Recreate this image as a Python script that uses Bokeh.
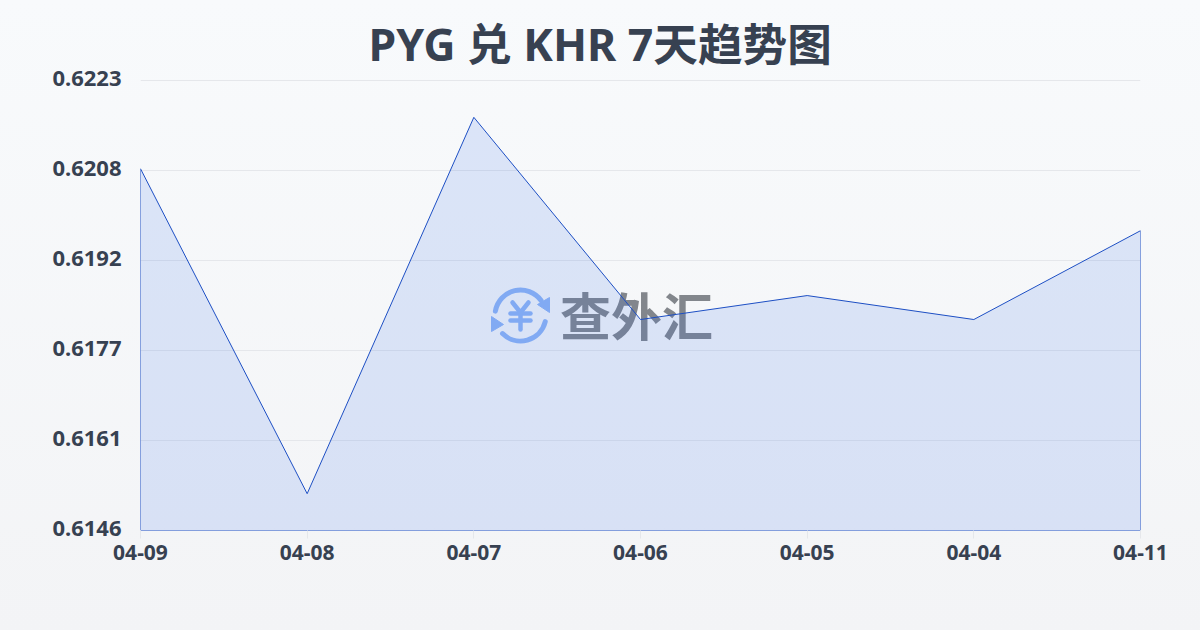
from bokeh.plotting import figure
from bokeh.embed import file_html
from bokeh.resources import INLINE
from bokeh.models import Range1d, FixedTicker, Label, GlobalInlineStyleSheet

title = "PYG 兑 KHR 7天趋势图"
dates = ["04-09", "04-08", "04-07", "04-06", "04-05", "04-04", "04-11"]
rates = [0.62079, 0.61523, 0.62167, 0.61821, 0.61862, 0.61821, 0.61973]
y_ticks = [0.6146, 0.61614, 0.61768, 0.61922, 0.62076, 0.6223]
y_labels = ["0.6146", "0.6161", "0.6177", "0.6192", "0.6208", "0.6223"]
y_min, y_max = 0.6146, 0.6223

W, H = 1184, 614
FONT = "'Noto Sans', 'Noto Sans CJK SC'"
TEXT = "#374151"
LOGO = "#8fb5f5"
shift = 2 * (y_max - y_min) / 450  # tick labels sit 2px above their grid lines

p = figure(width=W, height=H, output_backend="svg", toolbar_location=None,
           x_range=Range1d(0, len(dates) - 1), y_range=Range1d(y_min, y_max + shift),
           min_border_left=140, min_border_right=44, min_border_top=78, min_border_bottom=84,
           background_fill_alpha=0, border_fill_alpha=0)
p.stylesheets = [GlobalInlineStyleSheet(css="html{min-height:100%;background:linear-gradient(180deg,#f8fafc 0%,#f3f4f6 100%);}body{background:transparent;}")]
p.outline_line_color = None
p.xgrid.visible = False
p.ygrid.ticker = FixedTicker(ticks=y_ticks)
p.ygrid.grid_line_color = "#e5e7eb"
p.ygrid.grid_line_width = 1

p.title.text = title
p.title.align = "left"
p.title.offset = 228
p.title.standoff = 9
p.title.text_font = FONT
p.title.text_font_style = "bold"
p.title.text_font_size = "44.6px"
p.title.text_color = "#374151"

p.extra_y_ranges = {"ylab": Range1d(y_min - shift, y_max + 1e-7),
                    "px": Range1d(450, -2)}
p.extra_x_ranges = {"px": Range1d(0, 1000)}

p.xaxis.ticker = FixedTicker(ticks=list(range(len(dates))))
p.xaxis.major_label_overrides = {i: d for i, d in enumerate(dates)}
p.yaxis[0].y_range_name = "ylab"
p.yaxis.ticker = FixedTicker(ticks=y_ticks)
p.yaxis.major_label_overrides = dict(zip(y_ticks, y_labels))
for ax in (p.xaxis[0], p.yaxis[0]):
    ax.axis_line_color = None
    ax.minor_tick_line_color = None
    ax.major_label_text_font = FONT
    ax.major_label_text_font_style = "bold"
    ax.major_label_text_color = TEXT
p.xaxis.major_label_text_font_size = "21px"
p.yaxis.major_label_text_font_size = "22px"
p.xaxis.major_tick_line_color = "#e5e7eb"
p.xaxis.major_tick_in = 0
p.xaxis.major_tick_out = 8
p.yaxis.major_tick_line_color = None
p.yaxis.major_tick_in = 0
p.yaxis.major_tick_out = 0
p.yaxis.major_label_standoff = 19
p.xaxis.major_label_standoff = 6

# watermark, drawn in frame pixels through a pixel-scaled extra range
kw = dict(x_range_name="px", y_range_name="px")
cx, cy = 380, 235
R = 25.5
p.arc([cx], [cy], radius=[R], radius_units="screen", start_angle=[0.63], end_angle=[2.97],
      line_color=LOGO, line_width=5, line_cap="round", **kw)
p.arc([cx], [cy], radius=[R], radius_units="screen", start_angle=[3.93], end_angle=[6.04],
      line_color=LOGO, line_width=5, line_cap="round", **kw)
p.patch([cx + 29, cx + 29, cx + 17], [cy - 18, cy - 3, cy - 11], fill_color=LOGO, line_color=LOGO, **kw)
p.patch([cx - 29, cx - 29, cx - 17], [cy + 1, cy + 16, cy + 9], fill_color=LOGO, line_color=LOGO, **kw)
p.multi_line([[cx - 8, cx, cx + 8], [cx - 10, cx + 10], [cx - 10, cx + 10], [cx, cx]],
             [[cy - 13, cy - 3, cy - 13], [cy - 2, cy - 2], [cy + 5, cy + 5], [cy - 3, cy + 14]],
             line_color=LOGO, line_width=4.5, line_cap="round", line_join="round", **kw)
p.add_layout(Label(x=496, y=233, text="查外汇", text_font="Noto Sans CJK SC", text_font_style="bold",
                   text_font_size="51px", text_color="#82868c", text_align="center",
                   text_baseline="middle", level="underlay", **kw))

# area with closed outline
xs = list(range(len(dates)))
p.patch([xs[0]] + xs + [xs[-1]], [y_min] + rates + [y_min], fill_color="#2f6be8", fill_alpha=0.14,
        line_color="#1d4fc4", line_width=1)

open("out.html", "w").write(file_html(p, INLINE))
